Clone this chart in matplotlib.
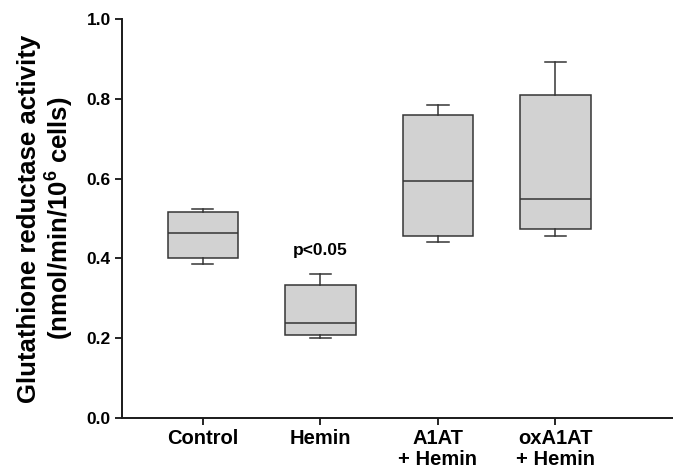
import matplotlib
matplotlib.use("Agg")
import matplotlib.pyplot as plt

categories = ["Control", "Hemin", "A1AT\n+ Hemin", "oxA1AT\n+ Hemin"]
whislo = [0.387, 0.201, 0.440, 0.455]
q1 = [0.400, 0.209, 0.455, 0.473]
med = [0.464, 0.238, 0.593, 0.549]
q3 = [0.516, 0.333, 0.760, 0.811]
whishi = [0.524, 0.362, 0.784, 0.892]
yticks = [0.0, 0.2, 0.4, 0.6, 0.8, 1.0]
annot_text = "p<0.05"
annot_idx = 1
annot_y = 0.419

plt.rcParams['font.family'] = ['Liberation Sans', 'DejaVu Sans']
plt.rcParams['font.weight'] = 'bold'
plt.rcParams['mathtext.fontset'] = 'custom'
plt.rcParams['mathtext.rm'] = 'Liberation Sans'
plt.rcParams['mathtext.bf'] = 'Liberation Sans:bold'

fig = plt.figure(figsize=(6.73, 4.69), dpi=100)
ax = fig.add_axes([0.181, 0.109, 0.819, 0.850])

stats = []
for i, c in enumerate(categories):
    stats.append(dict(label=c, whislo=whislo[i], q1=q1[i], med=med[i],
                      q3=q3[i], whishi=whishi[i], fliers=[]))

edge = '#353535'
ax.bxp(stats, positions=range(1, len(categories) + 1), widths=0.6,
       patch_artist=True, showfliers=False,
       boxprops=dict(facecolor='#d2d2d2', edgecolor=edge, linewidth=1.1),
       medianprops=dict(color=edge, linewidth=1.1),
       whiskerprops=dict(color=edge, linewidth=1.1),
       capprops=dict(color=edge, linewidth=1.1), capwidths=0.18)

ax.text(annot_idx + 1, annot_y, annot_text, ha='center', va='center',
        fontsize=12.5, fontweight='bold')

ax.set_xlim(0.31, 5.0)
ax.set_ylim(0.0, 1.0)
ax.set_yticks(yticks)
ax.set_yticklabels([f"{v:.1f}" for v in yticks])
ax.set_xticks(range(1, len(categories) + 1))
ax.set_xticklabels(categories, fontsize=14.5, fontweight='bold', linespacing=1.15)
ax.tick_params(axis='y', labelsize=12.5, length=5, width=1.2, direction='out', pad=3)
ax.tick_params(axis='x', length=5, width=1.2, direction='out', pad=3)

for s in ['top', 'right']:
    ax.spines[s].set_visible(False)
for s in ['left', 'bottom']:
    ax.spines[s].set_linewidth(1.4)
    ax.spines[s].set_color('#1a1a1a')

ax.set_ylabel("Glutathione reductase activity\n(nmol/min/10$^{\\mathbf{6}}$ cells)",
              fontsize=18.5, fontweight='bold', labelpad=8, linespacing=1.05)

fig.savefig("out.png", dpi=100)
